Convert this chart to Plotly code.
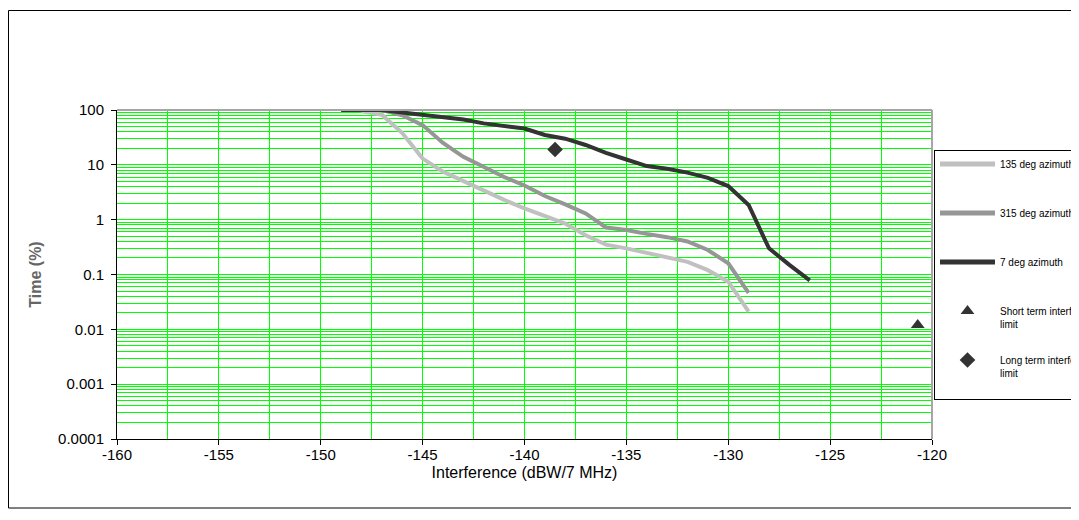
import plotly.graph_objects as go

# ---- data ----
x_135 = [-148, -147, -146, -145, -144, -143, -142, -141, -140, -139, -138, -137, -136,
         -135, -134, -133, -132, -131, -130, -129]
y_135 = [95, 82, 38, 13, 7.5, 5, 3.3, 2.3, 1.6, 1.15, 0.85, 0.52, 0.35,
         0.3, 0.25, 0.2, 0.17, 0.12, 0.074, 0.021]

x_315 = [-147, -146, -145, -144, -143, -142, -141, -140, -139, -138, -137, -136,
         -135, -134, -133, -132, -131, -130, -129]
y_315 = [100, 80, 53, 25, 14, 9, 6, 4.2, 2.7, 1.9, 1.3, 0.72,
         0.65, 0.55, 0.48, 0.4, 0.28, 0.16, 0.046]

x_7 = [-149, -147, -146, -145, -144, -143, -142, -141, -140, -139, -138, -137, -136,
       -135, -134, -133, -132, -131, -130, -129, -128, -127, -126]
y_7 = [100, 100, 90, 82, 75, 67, 57, 51, 46, 35, 30, 23, 16.5,
       12.5, 9.5, 8.5, 7.2, 5.8, 4.1, 1.85, 0.3, 0.15, 0.078]

short_x = [-120.7]
short_y = [0.012]
long_x = [-138.5]
long_y = [19]

series_names = ["135 deg azimuth", "315 deg azimuth", "7 deg azimuth",
                "Short term interference<br>limit", "Long term interference<br>limit"]

y_tickvals = [100, 10, 1, 0.1, 0.01, 0.001, 0.0001]
y_ticktext = ["100", "10", "1", "0.1", "0.01", "0.001", "0.0001"]
x_tickvals = [-160, -155, -150, -145, -140, -135, -130, -125, -120]
x_ticktext = ["-160", "-155", "-150", "-145", "-140", "-135", "-130", "-125", "-120"]

# gridline positions (every 2.5 in x, every digit per decade in y)
x_gridvals = [-160 + 2.5 * i for i in range(17)]
y_gridvals = [d * 10.0 ** e for e in range(-4, 2) for d in range(1, 10)] + [100]

FONT = "Liberation Sans, Arial, sans-serif"
GREEN = "#00ff00"
PAD = "<br>\u00a0"   # keeps legend entries evenly spaced

fig = go.Figure()
fig.add_trace(go.Scatter(x=x_135, y=y_135, mode="lines", name=series_names[0] + PAD,
                         line=dict(color="#c0c0c0", width=4), legendgroup="a"))
fig.add_trace(go.Scatter(x=x_315, y=y_315, mode="lines", name=series_names[1] + PAD,
                         line=dict(color="#969696", width=4), legendgroup="b"))
fig.add_trace(go.Scatter(x=x_7, y=y_7, mode="lines", name=series_names[2] + PAD,
                         line=dict(color="#333333", width=4), legendgroup="c"))
fig.add_trace(go.Scatter(x=short_x, y=short_y, mode="markers", name=series_names[3],
                         marker=dict(symbol="triangle-up", color="#333333", size=12),
                         legendgroup="d", xaxis="x2", yaxis="y2"))
fig.add_trace(go.Scatter(x=long_x, y=long_y, mode="markers", name=series_names[4] + PAD,
                         marker=dict(symbol="diamond", color="#333333", size=12),
                         legendgroup="e", xaxis="x2", yaxis="y2"))

# page offset of 8px (browser body margin)
OFF = 8
W, H = 1079 - OFF, 520 - OFF
PL, PR, PT, PB = 117, 932, 110, 439          # plot area in screenshot pixels
L, R, T, B = PL - OFF, W - (PR - OFF), PT - OFF, H - (PB - OFF)
PW, PH = PR - PL, PB - PT

def px(s):
    return (s - PL) / PW

def py(s):
    return (PB - s) / PH

fig.update_layout(
    width=W, height=H,
    margin=dict(l=L, r=R, t=T, b=B, autoexpand=False),
    paper_bgcolor="white", plot_bgcolor="white",
    font=dict(family=FONT, color="#000000"),
    showlegend=True,
    legend=dict(x=px(934), y=py(150), xanchor="left", yanchor="top",
                bordercolor="#000000", borderwidth=1, bgcolor="white",
                font=dict(size=10, family=FONT, color="#000000"),
                tracegroupgap=20, valign="top", itemwidth=55, itemsizing="constant"),
    # grid-only axes
    xaxis=dict(range=[-160, -120], tickvals=x_gridvals, showticklabels=False, ticks="",
               showgrid=True, gridcolor=GREEN, gridwidth=1, zeroline=False, showline=False),
    yaxis=dict(type="log", range=[-4, 2], tickvals=y_gridvals, showticklabels=False, ticks="",
               showgrid=True, gridcolor=GREEN, gridwidth=1, zeroline=False, showline=False),
    # labelled axes
    xaxis2=dict(overlaying="x", anchor="y2", side="bottom", range=[-160, -120],
                tickvals=x_tickvals, ticktext=x_ticktext,
                ticks="outside", ticklen=5, ticklabelstandoff=-3, tickcolor="#000000",
                showline=True, linecolor="#000000", linewidth=1,
                showgrid=False, zeroline=False,
                tickfont=dict(size=15, family=FONT),
                title=dict(text="Interference (dBW/7 MHz)", font=dict(size=16, family=FONT),
                           standoff=4)),
    yaxis2=dict(overlaying="y", anchor="x2", side="left", type="log", range=[-4, 2],
                tickvals=y_tickvals, ticktext=y_ticktext,
                ticks="outside", ticklen=5, tickcolor="#000000", ticklabelstandoff=4,
                showline=True, linecolor="#000000", linewidth=1,
                showgrid=False, zeroline=False,
                tickfont=dict(size=15, family=FONT),
                title=dict(text="<b>Time (%)</b>", font=dict(size=16, family=FONT, color="#666666"),
                           standoff=12)),
)

# plot-area top and right border (gray) and outer chart frame
fig.add_shape(type="line", xref="paper", yref="paper", x0=0, x1=1, y0=1, y1=1,
              line=dict(color="#a6a6a6", width=2))
fig.add_shape(type="line", xref="paper", yref="paper", x0=1, x1=1, y0=0, y1=1,
              line=dict(color="#a6a6a6", width=2))
fig.add_shape(type="rect", xref="paper", yref="paper",
              x0=px(8.5), x1=px(1100), y0=py(508), y1=py(10.5),
              line=dict(color="#000000", width=1), fillcolor="rgba(0,0,0,0)", layer="below")

fig.write_html("out.html")
